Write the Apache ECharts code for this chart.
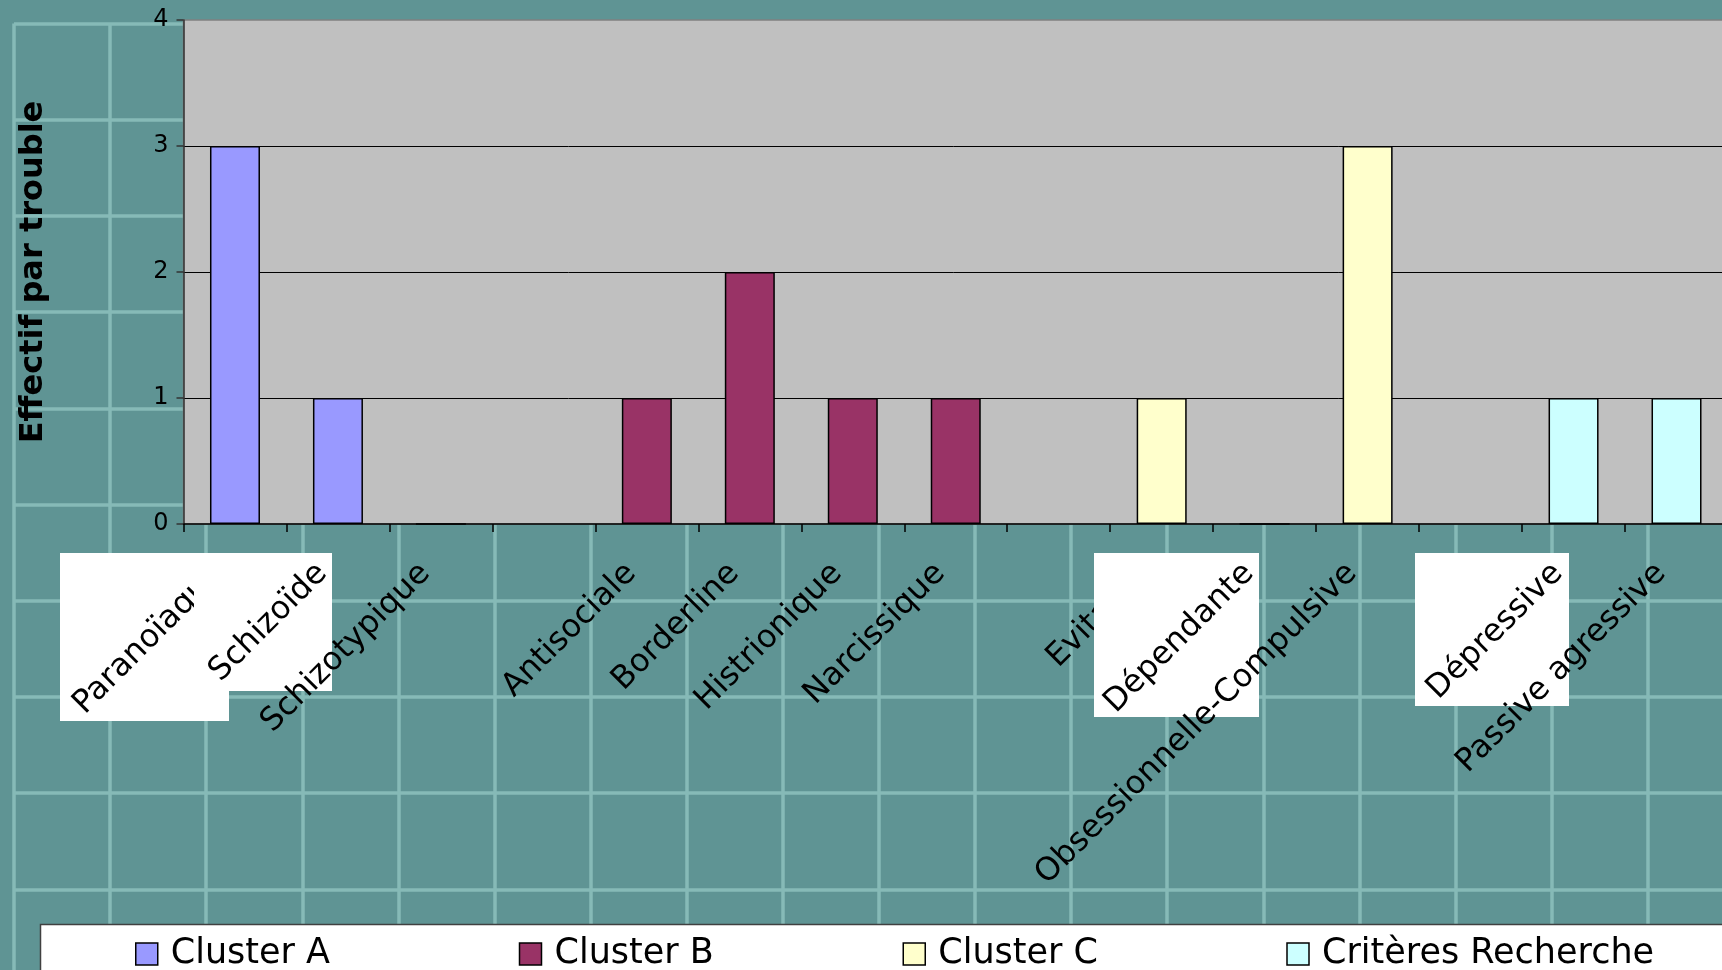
<!DOCTYPE html>
<html>
<head>
<meta charset="utf-8">
<script src="https://cdn.jsdelivr.net/npm/echarts@6/dist/echarts.min.js"></script>
<style>
  html, body { margin: 0; padding: 0; background: #5F9494; }
  #chart { width: 1722px; height: 970px; }
</style>
</head>
<body>
<div id="chart"></div>
<script>
// Personality disorder categories (blank entries separate the clusters)
const categories = [
  'Paranoïaque', 'Schizoïde', 'Schizotypique', '',
  'Antisociale', 'Borderline', 'Histrionique', 'Narcissique', '',
  'Evitante', 'Dépendante', 'Obsessionnelle-Compulsive', '',
  'Dépressive', 'Passive agressive'
];

// Counts per disorder, one array per cluster
const clusterA  = [3, 1, 0, null, null, null, null, null, null, null, null, null, null, null, null];
const clusterB  = [null, null, null, null, 1, 2, 1, 1, null, null, null, null, null, null, null];
const clusterC  = [null, null, null, null, null, null, null, null, null, 1, 0, 3, null, null, null];
const recherche = [null, null, null, null, null, null, null, null, null, null, null, null, null, 1, 1];

const seriesNames  = ['Cluster A', 'Cluster B', 'Cluster C', 'Critères Recherche'];
const seriesValues = [clusterA, clusterB, clusterC, recherche];
const seriesColors = ['#9999FF', '#993366', '#FFFFCC', '#CCFFFF'];

const yAxisTitle = 'Effectif par trouble';
const yTickValues = [0, 1, 2, 3, 4];

// Labels drawn beneath the white label boxes
const labelsUnderBoxes = ['Paranoïaque', 'Evitante'];

const FONT = 'DejaVu Sans';
const PAPER_LINE = { color: '#86BAB7', width: 3.5 };

const chart = echarts.init(document.getElementById('chart'), null, { renderer: 'canvas' });

const xLabelStyle = {
  interval: 0,
  hideOverlap: false,
  rotate: 45,
  margin: 29,
  padding: [0, 22, 0, 0],
  fontFamily: FONT,
  fontSize: 32,
  color: '#000'
};

const option = {
  backgroundColor: '#5F9494',
  animation: false,
  grid: [
    {
      left: 183.5, right: -6, top: 20, bottom: 446,
      outerBoundsMode: 'none',
      show: true, backgroundColor: '#C0C0C0',
      borderColor: '#808080', borderWidth: 1.5,
      z: 4
    },
    // graph-paper backdrop
    { left: 14, top: 23.5, width: 96.1 * 18, height: 96.2 * 10, outerBoundsMode: 'none', show: false, z: 0 }
  ],
  xAxis: [
    {
      gridIndex: 0, type: 'category', data: categories, position: 'bottom',
      boundaryGap: true, z: 5,
      axisLine: { show: true, lineStyle: { color: '#000', width: 1.5 } },
      axisTick: { show: true, length: 8, lineStyle: { color: '#000', width: 1.5 } },
      axisLabel: Object.assign({}, xLabelStyle, {
        formatter: v => labelsUnderBoxes.includes(v) ? '' : v
      }),
      splitLine: { show: false }
    },
    {
      gridIndex: 0, type: 'category', data: categories, position: 'bottom',
      boundaryGap: true, z: 2,
      axisLine: { show: false }, axisTick: { show: false },
      axisLabel: Object.assign({}, xLabelStyle, {
        formatter: v => labelsUnderBoxes.includes(v) ? v : ''
      }),
      splitLine: { show: false }
    },
    {
      gridIndex: 1, type: 'value', min: 0, max: 18, interval: 1, z: 0,
      axisLine: { show: false }, axisTick: { show: false }, axisLabel: { show: false },
      splitLine: { show: true, lineStyle: PAPER_LINE }
    }
  ],
  yAxis: [
    {
      gridIndex: 0, type: 'value',
      min: yTickValues[0], max: yTickValues[yTickValues.length - 1], interval: 1,
      z: 5,
      name: yAxisTitle, nameLocation: 'middle', nameGap: 134, nameRotate: 90,
      nameTextStyle: { fontFamily: FONT, fontSize: 32, fontWeight: 'bold', color: '#000' },
      axisLine: { show: true, lineStyle: { color: '#333', width: 1.5 } },
      axisTick: { show: true, length: 7, lineStyle: { color: '#333', width: 1.5 } },
      axisLabel: { margin: 15, fontFamily: FONT, fontSize: 24, color: '#000' },
      splitLine: { show: true, showMinLine: false, showMaxLine: false, lineStyle: { color: '#000', width: 1 } }
    },
    {
      gridIndex: 1, type: 'value', min: 0, max: 10, interval: 1, inverse: true, z: 0,
      axisLine: { show: false }, axisTick: { show: false }, axisLabel: { show: false },
      splitLine: { show: true, lineStyle: PAPER_LINE }
    }
  ],
  legend: {
    data: seriesNames,
    left: 135, top: 934,
    orient: 'horizontal',
    padding: 0,
    itemGap: 0,
    itemWidth: 22, itemHeight: 22,
    icon: 'rect',
    itemStyle: { borderColor: '#000', borderWidth: 1.5 },
    textStyle: {
      fontFamily: FONT, fontSize: 35, color: '#000',
      width: 348, lineHeight: 40, padding: [0, 0, 0, 8]
    },
    selectedMode: false,
    z: 7
  },
  graphic: {
    elements: [
      // white label boxes
      { type: 'rect', z: 1, shape: { x: 60, y: 553, width: 169, height: 168 }, style: { fill: '#FFFFFF' } },
      { type: 'rect', z: 3, shape: { x: 194, y: 553, width: 138, height: 138 }, style: { fill: '#FFFFFF' } },
      { type: 'rect', z: 3, shape: { x: 1094, y: 553, width: 165, height: 164 }, style: { fill: '#FFFFFF' } },
      { type: 'rect', z: 3, shape: { x: 1415, y: 553, width: 154, height: 153 }, style: { fill: '#FFFFFF' } },
      // legend panel
      { type: 'rect', z: 6, shape: { x: 40.5, y: 924.5, width: 1700, height: 80 },
        style: { fill: '#FFFFFF', stroke: '#404040', lineWidth: 1.5 } }
    ]
  },
  series: seriesNames.map((name, i) => ({
    name,
    type: 'bar',
    xAxisIndex: 0, yAxisIndex: 0,
    stack: 'effectif',
    barWidth: 50,
    z: 6,
    data: seriesValues[i],
    itemStyle: { color: seriesColors[i], borderColor: '#000', borderWidth: 1.5 }
  }))
};

chart.setOption(option);
</script>
</body>
</html>
